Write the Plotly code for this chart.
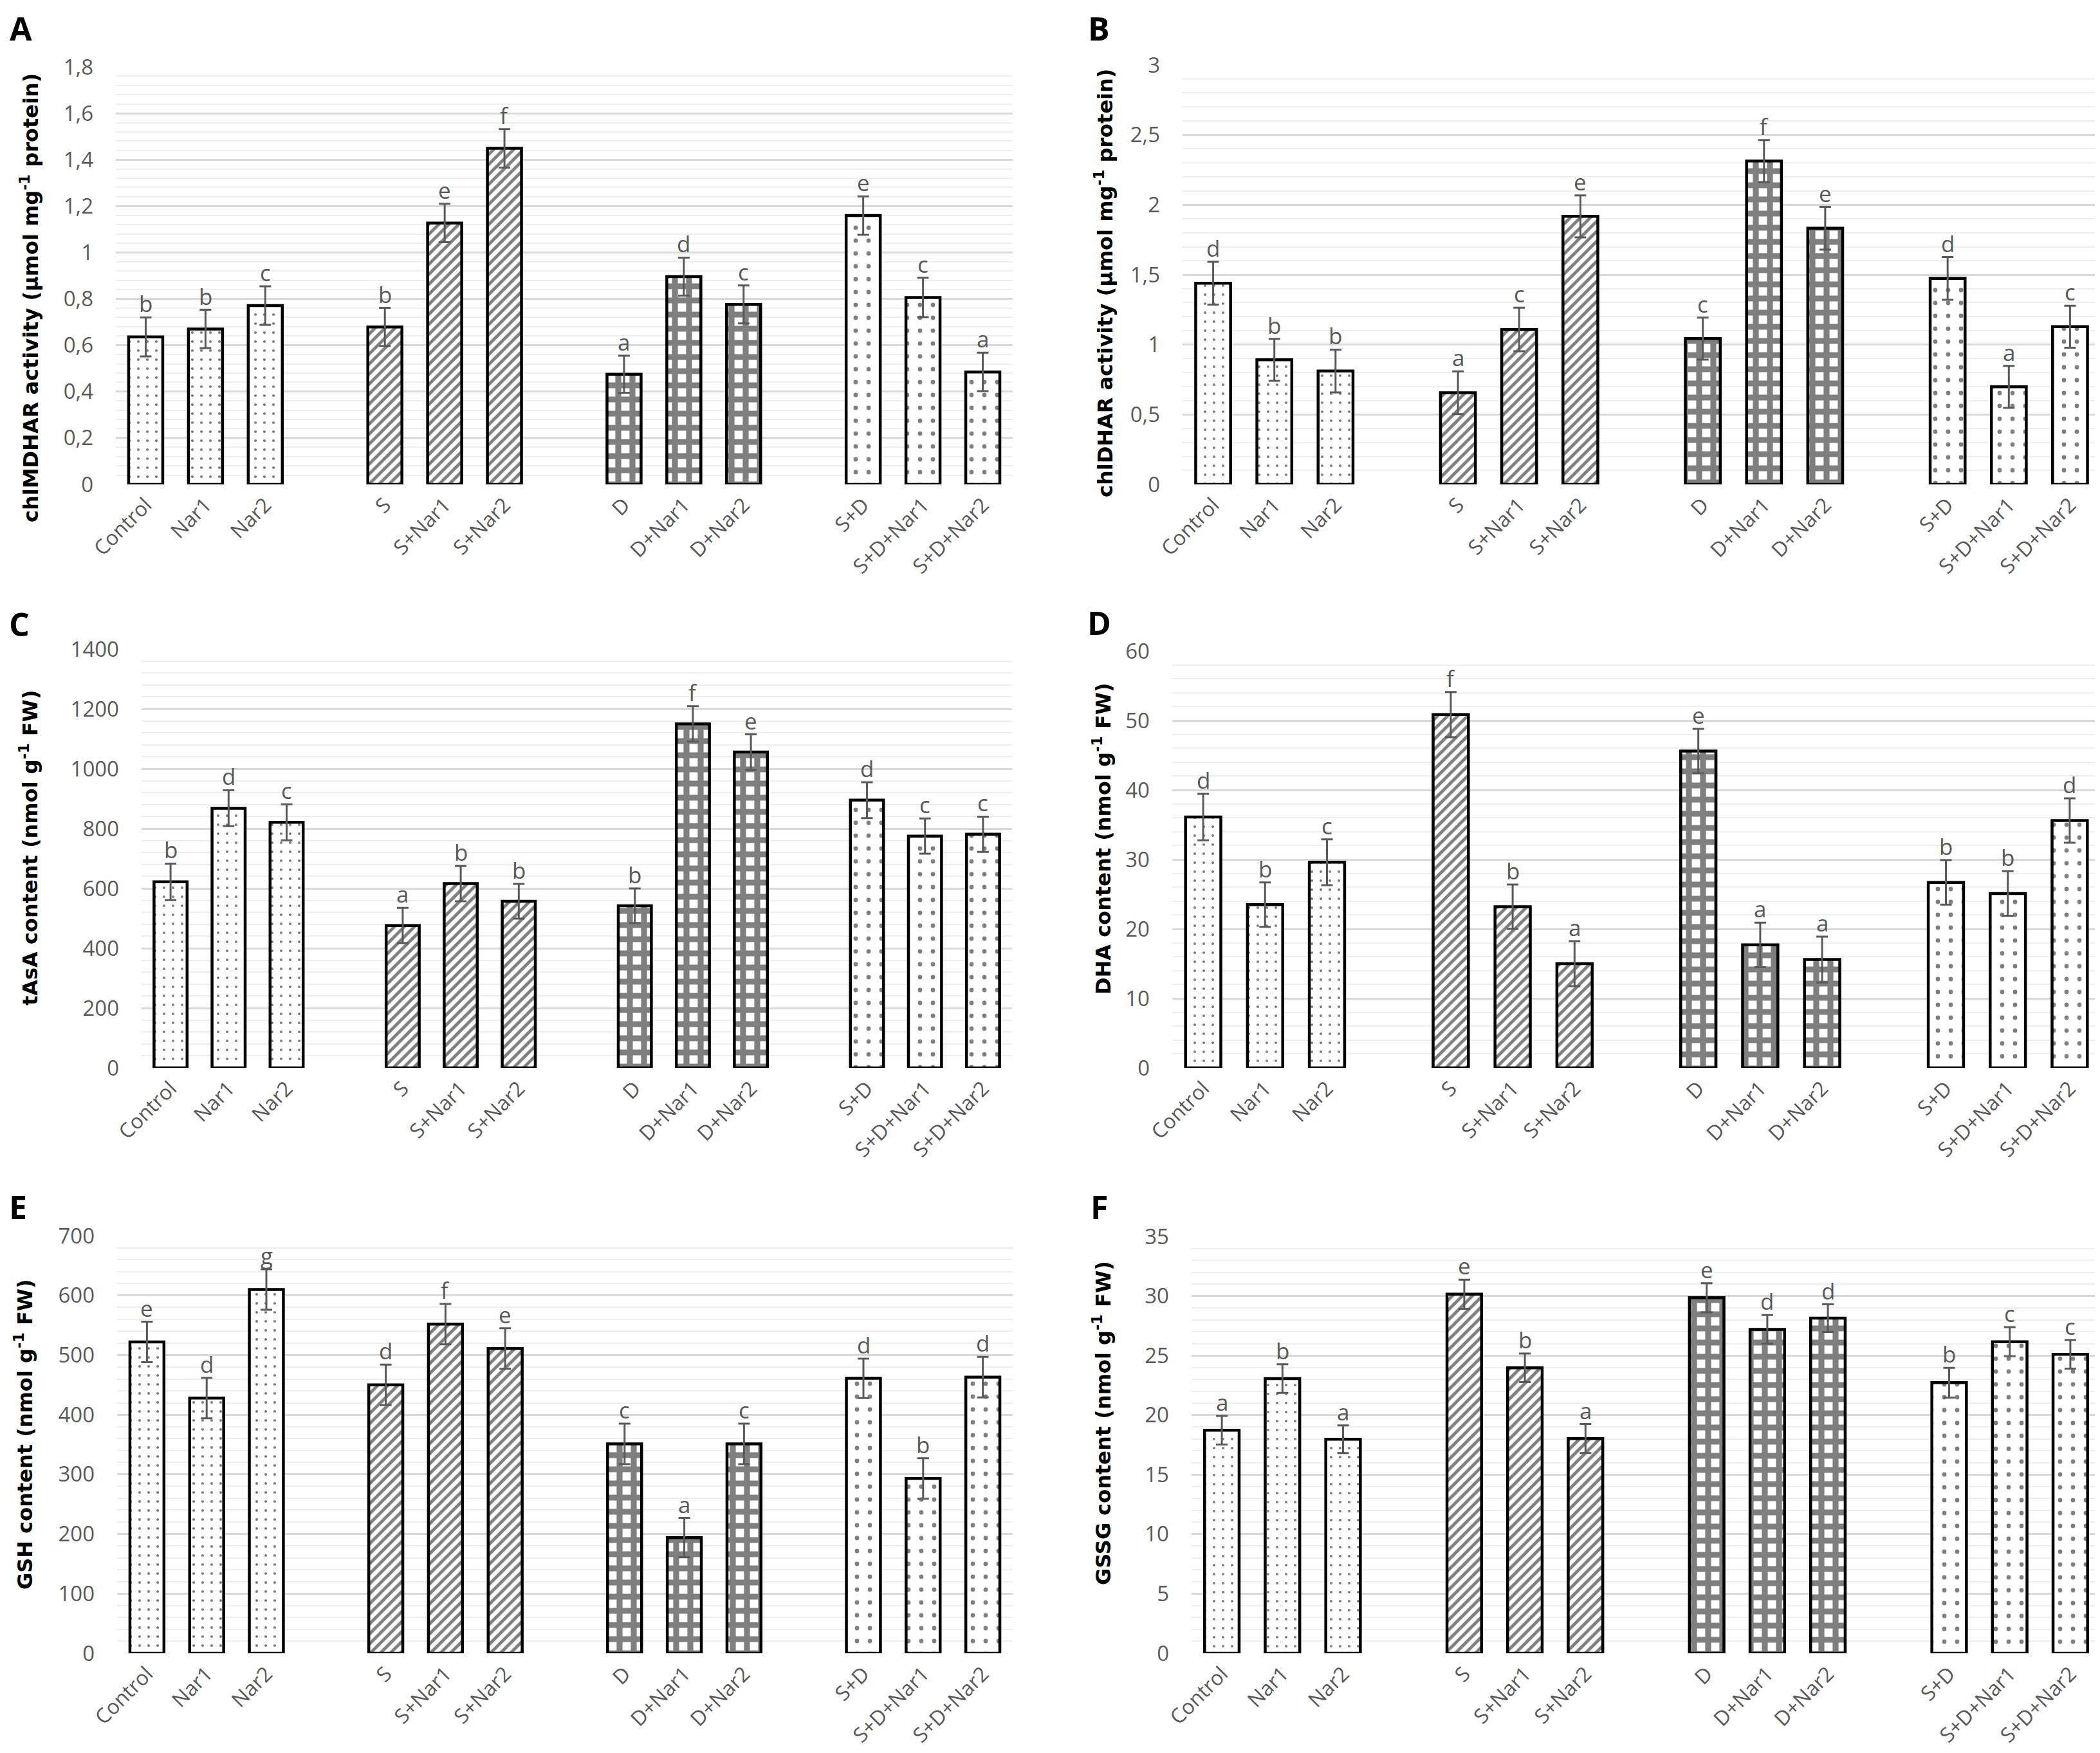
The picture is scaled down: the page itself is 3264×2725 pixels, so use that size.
import plotly.graph_objects as go

W, H = 3264, 2725

categories = ["Control", "Nar1", "Nar2", "S", "S+Nar1", "S+Nar2",
              "D", "D+Nar1", "D+Nar2", "S+D", "S+D+Nar1", "S+D+Nar2"]
# slot of every bar on the x axis (one empty slot between treatment groups)
slots = [0, 1, 2, 4, 5, 6, 8, 9, 10, 12, 13, 14]

a_vals = [0.636, 0.670, 0.771, 0.679, 1.127, 1.449, 0.475, 0.896, 0.776, 1.159, 0.806, 0.485]
a_err = [0.084, 0.083, 0.083, 0.082, 0.083, 0.083, 0.080, 0.082, 0.082, 0.083, 0.085, 0.083]
a_letters = ["b", "b", "c", "b", "e", "f", "a", "d", "c", "e", "c", "a"]

b_vals = [1.439, 0.891, 0.811, 0.656, 1.108, 1.917, 1.043, 2.313, 1.832, 1.473, 0.698, 1.128]
b_err = [0.153, 0.150, 0.153, 0.153, 0.156, 0.150, 0.150, 0.150, 0.153, 0.153, 0.150, 0.150]
b_letters = ["d", "b", "b", "a", "c", "e", "c", "f", "e", "d", "a", "c"]

c_vals = [622, 868, 821, 476, 616, 557, 542, 1150, 1056, 895, 775, 781]
c_err = [61, 60, 60, 59, 59, 58, 58, 59, 59, 60, 59, 59]
c_letters = ["b", "d", "c", "a", "b", "b", "b", "f", "e", "d", "c", "c"]

d_vals = [36.1, 23.5, 29.6, 50.85, 23.2, 15.0, 45.6, 17.7, 15.6, 26.7, 25.1, 35.6]
d_err = [3.35, 3.2, 3.3, 3.25, 3.2, 3.25, 3.2, 3.2, 3.3, 3.2, 3.2, 3.2]
d_letters = ["d", "b", "c", "f", "b", "a", "e", "a", "a", "b", "b", "d"]

e_vals = [522, 428, 610, 450, 552, 511, 351, 194, 351, 461, 293, 463]
e_err = [34, 34, 34, 34, 34, 34, 34, 33, 34, 33, 34, 34]
e_letters = ["e", "d", "g", "d", "f", "e", "c", "a", "c", "d", "b", "d"]

f_vals = [18.73, 23.06, 17.97, 30.15, 23.97, 18.03, 29.85, 27.2, 28.14, 22.72, 26.16, 25.1]
f_err = [1.2, 1.2, 1.16, 1.22, 1.2, 1.22, 1.22, 1.2, 1.16, 1.25, 1.22, 1.2]
f_letters = ["a", "b", "a", "e", "b", "a", "e", "d", "d", "b", "c", "c"]

GRAY = "#595959"
FONT = "Open Sans"
TITLE_FONT = "DejaVu Sans"

# fill pattern per treatment group (Control / S / D / S+D)
patterns = [
    dict(shape=".", size=14, solidity=0.07),
    dict(shape="/", size=11, solidity=0.45),
    dict(shape="+", size=22, solidity=0.66),
    dict(shape=".", size=20, solidity=0.09),
]

# name, values, errors, letters, y max, major step, minor step, y title,
# plot box in pixels (left, top, right, bottom), title centre, panel letter position
panels = [
    ("A", a_vals, a_err, a_letters, 1.8, 0.2, 0.04,
     "chlMDHAR activity (µmol mg<sup>-1</sup> protein)",
     (172, 96, 1566, 745), (38, 455), (24, 36)),
    ("B", b_vals, b_err, b_letters, 3, 0.5, 0.1,
     "chlDHAR activity (µmol mg<sup>-1</sup> protein)",
     (1830, 93, 3257, 745), (1708, 432), (1700, 36)),
    ("C", c_vals, c_err, c_letters, 1400, 200, 40,
     "tAsA content (nmol g<sup>-1</sup> FW)",
     (212, 1001, 1565, 1652), (37, 1310), (22, 962)),
    ("D", d_vals, d_err, d_letters, 60, 10, 2,
     "DHA content (nmol g<sup>-1</sup> FW)",
     (1814, 1004, 3257, 1652), (1705, 1296), (1700, 960)),
    ("E", e_vals, e_err, e_letters, 700, 100, 20,
     "GSH content (nmol g<sup>-1</sup> FW)",
     (174, 1913, 1566, 2562), (29, 2222), (20, 1868)),
    ("F", f_vals, f_err, f_letters, 35, 5, 1,
     "GSSG content (nmol g<sup>-1</sup> FW)",
     (1844, 1914, 3257, 2562), (1705, 2204), (1700, 1868)),
]

fig = go.Figure()
annotations = []

for k, (name, vals, errs, letters, ymax, step, minor, ytitle, box, tpos, lpos) in enumerate(panels):
    n = k + 1
    xa = "x" if n == 1 else f"x{n}"
    ya = "y" if n == 1 else f"y{n}"
    left, top, right, bottom = box

    for g in range(4):
        idx = range(g * 3, g * 3 + 3)
        pat = patterns[g]
        fig.add_trace(go.Bar(
            x=[slots[i] for i in idx],
            y=[vals[i] for i in idx],
            width=0.57,
            xaxis=xa, yaxis=ya,
            marker=dict(
                color="white",
                line=dict(color="black", width=4.5),
                pattern=dict(shape=pat["shape"], size=pat["size"],
                             solidity=pat["solidity"], fgcolor="black",
                             bgcolor="white", fillmode="overlay"),
            ),
            error_y=dict(type="data", array=[errs[i] for i in idx],
                         color=GRAY, thickness=3, width=9),
            showlegend=False,
        ))

    # significance letters just above the error bars
    for s, v, e, lt in zip(slots, vals, errs, letters):
        annotations.append(dict(
            text=lt, x=s, y=v + e, xref=xa, yref=ya,
            showarrow=False, xanchor="center", yanchor="bottom", yshift=-4,
            font=dict(family=FONT, size=35, color=GRAY),
        ))

    ticks = []
    t = 0.0
    while t <= ymax + 1e-9:
        ticks.append(round(t, 6))
        t += step
    ticktext = [f"{v:g}".replace(".", ",") for v in ticks]

    fig.layout[f"xaxis{'' if n == 1 else n}"] = dict(
        domain=[left / W, right / W], anchor=ya, automargin=False,
        range=[-0.5, 14.5], tickvals=slots, ticktext=categories,
        tickangle=-45, showgrid=False, zeroline=False, showline=False,
        ticks="", ticklabelstandoff=6,
        tickfont=dict(family=FONT, size=32, color=GRAY),
    )
    fig.layout[f"yaxis{'' if n == 1 else n}"] = dict(
        domain=[1 - bottom / H, 1 - top / H], anchor=xa, automargin=False,
        range=[0, ymax], tickvals=ticks, ticktext=ticktext,
        showgrid=True, gridcolor="#d9d9d9", gridwidth=3,
        zeroline=False, showline=False, ticks="", ticklabelstandoff=34,
        minor=dict(dtick=minor, showgrid=True, gridcolor="#eeeeee", gridwidth=2),
        tickfont=dict(family=FONT, size=33, color=GRAY),
    )

    annotations.append(dict(
        text=ytitle, x=tpos[0] / W, y=1 - tpos[1] / H, xref="paper", yref="paper",
        textangle=-90, showarrow=False, xanchor="center", yanchor="middle",
        font=dict(family=TITLE_FONT, size=32, color="black", weight="bold"),
    ))
    annotations.append(dict(
        text=name, x=lpos[0] / W, y=1 - lpos[1] / H, xref="paper", yref="paper",
        showarrow=False, xanchor="center", yanchor="middle",
        font=dict(family=FONT, size=50, color="black", weight="bold"),
    ))

fig.update_layout(
    width=W, height=H,
    margin=dict(l=0, r=0, t=0, b=0, autoexpand=False),
    paper_bgcolor="white", plot_bgcolor="white",
    annotations=annotations,
    barmode="overlay",
)

fig.write_html("out.html")
